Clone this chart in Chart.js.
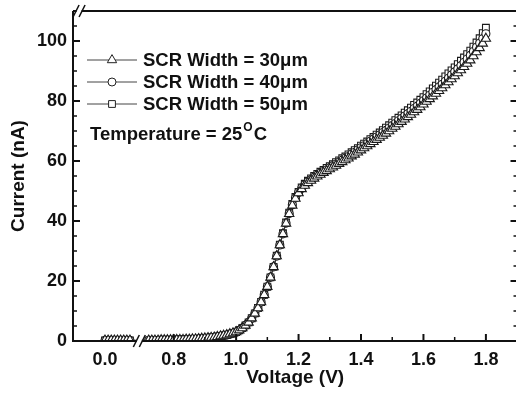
<!DOCTYPE html>
<html>
<head>
<meta charset="utf-8">
<script src="https://cdn.jsdelivr.net/npm/chart.js@4.4.1/dist/chart.umd.min.js"></script>
<style>
  html, body { margin: 0; padding: 0; background: #fff; overflow: hidden; }
  #wrap { width: 524px; height: 394px; }
</style>
</head>
<body>
<div id="wrap"><canvas id="ivChart" width="524" height="394"></canvas></div>
<script>
// ---- data (V in volts, I in nA) ----
const lowVoltage = [0.00, 0.01, 0.02, 0.03, 0.04, 0.05, 0.06, 0.07, 0.08];
const low30 = [0.2, 0.2, 0.2, 0.2, 0.2, 0.2, 0.2, 0.2, 0.2];
const low40 = [0.2, 0.2, 0.2, 0.2, 0.2, 0.2, 0.2, 0.2, 0.2];
const low50 = [0.2, 0.2, 0.2, 0.2, 0.2, 0.2, 0.2, 0.2, 0.2];

const sweepVoltage = [
  0.72, 0.73, 0.74, 0.75, 0.76, 0.77, 0.78, 0.79, 0.80,
  0.81, 0.82, 0.83, 0.84, 0.85, 0.86, 0.87, 0.88, 0.89, 0.90,
  0.91, 0.92, 0.93, 0.94, 0.95, 0.96, 0.97, 0.98, 0.99, 1.00,
  1.01, 1.02, 1.03, 1.04, 1.05, 1.06, 1.07, 1.08, 1.09, 1.10,
  1.11, 1.12, 1.13, 1.14, 1.15, 1.16, 1.17, 1.18, 1.19, 1.20,
  1.21, 1.22, 1.23, 1.24, 1.25, 1.26, 1.27, 1.28, 1.29, 1.30,
  1.31, 1.32, 1.33, 1.34, 1.35, 1.36, 1.37, 1.38, 1.39, 1.40,
  1.41, 1.42, 1.43, 1.44, 1.45, 1.46, 1.47, 1.48, 1.49, 1.50,
  1.51, 1.52, 1.53, 1.54, 1.55, 1.56, 1.57, 1.58, 1.59, 1.60,
  1.61, 1.62, 1.63, 1.64, 1.65, 1.66, 1.67, 1.68, 1.69, 1.70,
  1.71, 1.72, 1.73, 1.74, 1.75, 1.76, 1.77, 1.78, 1.79, 1.80
];

const current30 = [
  0.2, 0.2, 0.2, 0.2, 0.3, 0.3, 0.3, 0.3, 0.3,
  0.4, 0.4, 0.4, 0.5, 0.5, 0.6, 0.6, 0.7, 0.8, 0.9,
  1.0, 1.1, 1.2, 1.4, 1.6, 1.8, 2.0, 2.3, 2.6, 3.0,
  3.6, 4.3, 5.2, 6.2, 7.6, 9.2, 11.0, 13.0, 15.4, 18.1,
  21.2, 24.7, 28.3, 32.0, 35.7, 39.2, 42.4, 45.2, 47.5, 49.3,
  50.7, 51.8, 52.7, 53.5, 54.2, 54.9, 55.5, 56.1, 56.7, 57.3,
  57.9, 58.5, 59.1, 59.7, 60.3, 60.9, 61.6, 62.2, 62.9, 63.6,
  64.3, 65.0, 65.7, 66.4, 67.1, 67.8, 68.5, 69.2, 70.0, 70.8,
  71.5, 72.3, 73.1, 73.9, 74.7, 75.5, 76.3, 77.1, 78.0, 78.9,
  79.8, 80.7, 81.6, 82.5, 83.4, 84.3, 85.3, 86.3, 87.3, 88.3,
  89.3, 90.3, 91.4, 92.5, 93.6, 95.0, 96.3, 97.7, 99.2, 100.8
];

const current40 = [
  0.2, 0.2, 0.2, 0.2, 0.3, 0.3, 0.3, 0.3, 0.3,
  0.4, 0.4, 0.4, 0.5, 0.5, 0.6, 0.6, 0.7, 0.8, 0.9,
  1.0, 1.1, 1.2, 1.4, 1.6, 1.8, 2.0, 2.3, 2.6, 3.0,
  3.6, 4.3, 5.2, 6.2, 7.6, 9.2, 11.0, 13.0, 15.4, 18.1,
  21.2, 24.7, 28.3, 32.0, 35.7, 39.3, 42.5, 45.4, 47.7, 49.5,
  50.9, 52.1, 53.0, 53.8, 54.6, 55.3, 55.9, 56.5, 57.1, 57.8,
  58.4, 59.0, 59.7, 60.3, 60.9, 61.5, 62.3, 62.9, 63.7, 64.4,
  65.1, 65.8, 66.6, 67.3, 68.0, 68.7, 69.5, 70.2, 71.0, 71.8,
  72.5, 73.4, 74.2, 75.0, 75.8, 76.6, 77.5, 78.3, 79.2, 80.1,
  81.0, 81.9, 82.9, 83.8, 84.7, 85.6, 86.6, 87.6, 88.7, 89.7,
  90.7, 91.8, 92.9, 94.0, 95.2, 96.5, 97.9, 99.3, 100.8, 102.4
];

const current50 = [
  0.2, 0.2, 0.2, 0.2, 0.3, 0.3, 0.3, 0.3, 0.3,
  0.4, 0.4, 0.4, 0.5, 0.5, 0.6, 0.6, 0.7, 0.8, 0.9,
  1.0, 1.1, 1.2, 1.4, 1.6, 1.8, 2.0, 2.3, 2.6, 3.0,
  3.6, 4.3, 5.2, 6.2, 7.6, 9.2, 11.0, 13.0, 15.4, 18.1,
  21.2, 24.7, 28.4, 32.1, 35.9, 39.5, 42.8, 45.7, 48.0, 49.7,
  51.2, 52.4, 53.4, 54.2, 55.0, 55.7, 56.4, 57.0, 57.7, 58.3,
  58.9, 59.6, 60.2, 60.9, 61.5, 62.2, 62.9, 63.6, 64.3, 65.1,
  65.8, 66.5, 67.3, 68.0, 68.8, 69.5, 70.3, 71.1, 71.9, 72.8,
  73.6, 74.4, 75.2, 76.1, 76.9, 77.8, 78.7, 79.5, 80.4, 81.3,
  82.3, 83.2, 84.2, 85.1, 86.1, 87.1, 88.2, 89.2, 90.2, 91.2,
  92.3, 93.4, 94.5, 95.6, 96.8, 98.1, 99.5, 100.9, 102.6, 104.4
];

const seriesLabels = ["SCR Width = 30\u03bcm", "SCR Width = 40\u03bcm", "SCR Width = 50\u03bcm"];
const xTickVolts  = [0.0, 0.8, 1.0, 1.2, 1.4, 1.6, 1.8];
const xTickLabels = ["0.0", "0.8", "1.0", "1.2", "1.4", "1.6", "1.8"];
const yTickValues = [0, 20, 40, 60, 80, 100];

// ---- broken x axis: the 0.0 .. 0.08 block is shifted next to the 0.7+ sweep ----
const ZERO_SHIFT = 0.58;
const toAxis = v => (v < 0.5 ? v + ZERO_SHIFT : v);

const FONT = "'Liberation Sans', Arial, Helvetica, sans-serif";
const INK = "#111";

const makePoints = (lowI, sweepI) =>
  lowVoltage.map((v, i) => ({ x: toAxis(v), y: lowI[i] }))
    .concat(sweepVoltage.map((v, i) => ({ x: toAxis(v), y: sweepI[i] })));

const markerStyles = [
  { pointStyle: "triangle", radius: 5.4 },
  { pointStyle: "circle",   radius: 4.0 },
  { pointStyle: "rect",     radius: 4.8 }
];

const seriesData = [makePoints(low30, current30), makePoints(low40, current40), makePoints(low50, current50)];

// scales must not reserve label overhang; the frame is placed by layout padding
const noScalePadding = scale => {
  scale.paddingTop = 0;
  scale.paddingBottom = 0;
  scale.paddingLeft = 0;
  scale.paddingRight = 0;
};

//========================================================================
// axis frame with inward ticks and break marks
const framePlugin = {
  id: "frame",
  afterDraw(chart) {
    const { ctx, chartArea: a, scales: { x, y } } = chart;
    ctx.save();
    ctx.strokeStyle = INK;
    ctx.lineCap = "butt";

    // box
    ctx.lineWidth = 2;
    ctx.beginPath();
    ctx.moveTo(a.left, a.top); ctx.lineTo(a.left, a.bottom); ctx.lineTo(a.right, a.bottom);
    ctx.moveTo(a.left, a.top); ctx.lineTo(a.right, a.top); ctx.lineTo(a.right, a.bottom);
    ctx.stroke();

    const tick = (x0, y0, x1, y1, w) => {
      ctx.lineWidth = w;
      ctx.beginPath(); ctx.moveTo(x0, y0); ctx.lineTo(x1, y1); ctx.stroke();
    };

    // y ticks, left and right, pointing inward
    for (let v = 5; v < 110; v += 5) {
      const py = y.getPixelForValue(v);
      const len = v % 20 === 0 ? 7 : 4;
      const w = v % 20 === 0 ? 2 : 1.5;
      tick(a.left, py, a.left + len, py, w);
      tick(a.right, py, a.right - len, py, w);
    }

    // x ticks, pointing up
    [0.8, 1.0, 1.2, 1.4, 1.6, 1.8].forEach(v => {
      const px = x.getPixelForValue(toAxis(v));
      tick(px, a.bottom, px, a.bottom - 7, 2);
    });
    [0.9, 1.1, 1.3, 1.5, 1.7].forEach(v => {
      const px = x.getPixelForValue(toAxis(v));
      tick(px, a.bottom, px, a.bottom - 4, 1.5);
    });

    // break marks  //
    const breakMark = (cx, cy) => {
      ctx.fillStyle = "#fff";
      ctx.fillRect(cx - 2.5, cy - 2, 5, 4);
      ctx.lineWidth = 1.5;
      [cx - 3, cx + 3].forEach(s => {
        ctx.beginPath();
        ctx.moveTo(s - 3, cy + 6);
        ctx.lineTo(s + 3, cy - 6);
        ctx.stroke();
      });
    };
    breakMark(x.getPixelForValue(0.69), a.bottom);
    breakMark(x.getPixelForValue(0.497), a.top);

    ctx.restore();
  }
};

//========================================================================
// inset legend, top-left inside the plot
const legendPlugin = {
  id: "insetLegend",
  afterDraw(chart) {
    const { ctx } = chart;
    const rowsY = [60, 82, 104];
    ctx.save();
    chart.data.datasets.forEach((ds, i) => {
      const yy = rowsY[i];
      ctx.strokeStyle = "#444";
      ctx.lineWidth = 1;
      ctx.beginPath(); ctx.moveTo(87, yy); ctx.lineTo(137, yy); ctx.stroke();
      ctx.fillStyle = "#fff";
      ctx.strokeStyle = "#222";
      Chart.helpers.drawPoint(ctx, {
        pointStyle: ds.pointStyle, radius: ds.pointRadius, rotation: 0, borderWidth: 1
      }, 112, yy);
      ctx.fillStyle = INK;
      ctx.font = "bold 18.5px " + FONT;
      ctx.textBaseline = "middle";
      ctx.textAlign = "left";
      ctx.fillText(ds.label, 143, yy + 1);
    });

    // temperature note with superscript degree
    ctx.fillStyle = INK;
    ctx.textBaseline = "alphabetic";
    ctx.font = "bold 18.5px " + FONT;
    const main = "Temperature = 25";
    ctx.fillText(main, 90, 140);
    let px = 90 + ctx.measureText(main).width + 1;
    ctx.font = "bold 12px " + FONT;
    ctx.fillText("O", px, 131);
    px += ctx.measureText("O").width + 1;
    ctx.font = "bold 18.5px " + FONT;
    ctx.fillText("C", px, 140);
    ctx.restore();
  }
};

//========================================================================
new Chart(document.getElementById("ivChart"), {
  type: "scatter",
  data: {
    datasets: seriesData.map((pts, i) => ({
      label: seriesLabels[i],
      data: pts,
      showLine: true,
      borderColor: "#333",
      borderWidth: 1,
      pointStyle: markerStyles[i].pointStyle,
      pointRadius: markerStyles[i].radius,
      pointHoverRadius: markerStyles[i].radius,
      pointBackgroundColor: "#fff",
      pointBorderColor: "#1a1a1a",
      pointBorderWidth: 1.1
    }))
  },
  options: {
    responsive: false,
    animation: false,
    devicePixelRatio: 1,
    layout: { padding: { top: 11, right: 5, left: 0, bottom: 0 } },
    plugins: {
      legend: { display: false },
      tooltip: { enabled: false }
    },
    scales: {
      x: {
        type: "linear",
        min: 0.4776,
        max: 1.9012,
        grid: { display: false, drawTicks: false, tickLength: 0 },
        border: { display: false },
        afterBuildTicks: scale => { scale.ticks = xTickVolts.map(v => ({ value: toAxis(v) })); },
        afterFit: scale => { scale.height = 53; noScalePadding(scale); },
        ticks: {
          autoSkip: false, maxRotation: 0, padding: 8, color: INK,
          font: { family: FONT, size: 18, weight: "bold" },
          callback: (val, idx) => xTickLabels[idx]
        },
        title: {
          display: true, text: "Voltage (V)", color: INK,
          font: { family: FONT, size: 19, weight: "bold" },
          padding: { top: 0, bottom: 5 }
        }
      },
      y: {
        type: "linear",
        min: 0,
        max: 110,
        grid: { display: false, drawTicks: false, tickLength: 0 },
        border: { display: false },
        afterBuildTicks: scale => { scale.ticks = yTickValues.map(v => ({ value: v })); },
        afterFit: scale => { scale.width = 73; noScalePadding(scale); },
        ticks: {
          padding: 6, color: INK,
          font: { family: FONT, size: 18, weight: "bold" }
        },
        title: {
          display: true, text: "Current (nA)", color: INK,
          font: { family: FONT, size: 19, weight: "bold" },
          padding: { top: 7, bottom: 0 }
        }
      }
    }
  },
  plugins: [framePlugin, legendPlugin]
});
</script>
</body>
</html>
